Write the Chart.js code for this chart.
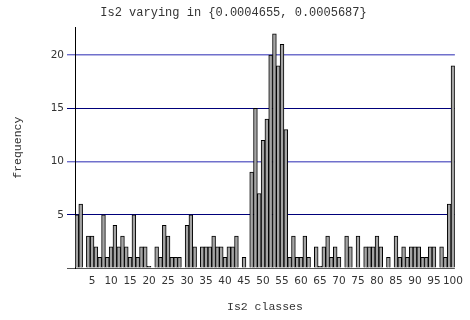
<!DOCTYPE html>
<html>
<head>
<meta charset="utf-8">
<script src="https://cdn.jsdelivr.net/npm/chart.js@4/dist/chart.umd.min.js"></script>
<style>
  body { margin: 0; background: #fff; }
  canvas { display: block; }
</style>
</head>
<body>
<canvas id="chart" width="470" height="320"></canvas>
<script>
// classes 1..100
const classes = Array.from({ length: 100 }, (_, i) => String(i + 1));
const frequency = [
  5, 6, 0, 3, 3, 2, 1, 5, 1, 2,
  4, 2, 3, 2, 1, 5, 1, 2, 2, 0.15,
  0, 2, 1, 4, 3, 1, 1, 1, 0, 4,
  5, 2, 0, 2, 2, 2, 3, 2, 2, 1,
  2, 2, 3, 0, 1, 0, 9, 15, 7, 12,
  14, 20, 22, 19, 21, 13, 1, 3, 1, 1,
  3, 1, 0, 2, 0.15, 2, 3, 1, 2, 1,
  0, 3, 2, 0, 3, 0, 2, 2, 2, 3,
  2, 0, 1, 0, 3, 1, 2, 1, 2, 2,
  2, 1, 1, 2, 2, 0, 2, 1, 6, 19
];
const yTicks = [0, 5, 10, 15, 20];
const gridColors = ["#555555", "#00007a", "#7070cc", "#00007a", "#7070cc"];
const gridWidths = [1, 1, 1.4, 1, 1.4];
const titleText = "Is2 varying in {0.0004655, 0.0005687}";

const ctx = document.getElementById("chart").getContext("2d");
new Chart(ctx, {
  type: "bar",
  data: {
    labels: classes,
    datasets: [{
      data: frequency,
      backgroundColor: "#a4a4a4",
      borderColor: "#000",
      borderWidth: 1,
      barPercentage: 1,
      categoryPercentage: 1
    }]
  },
  options: {
    responsive: false,
    animation: false,
    layout: { padding: { left: 0, right: 3, top: 0, bottom: 0 } },
    plugins: {
      legend: { display: false },
      tooltip: { enabled: false },
      title: {
        display: true,
        text: titleText,
        color: "#333",
        font: { family: "'Liberation Mono', monospace", size: 12, weight: "normal" },
        padding: { top: 6, bottom: 7 }
      }
    },
    scales: {
      x: {
        grid: { display: false, drawTicks: false },
        border: { display: false },
        ticks: {
          autoSkip: false,
          maxRotation: 0,
          padding: 7,
          color: "#333",
          font: { family: "'DejaVu Sans', sans-serif", size: 10.5 },
          callback: (v, i) => ((i + 1) % 5 === 0 ? classes[i] : "")
        },
        title: {
          display: true,
          text: "Is2 classes",
          color: "#333",
          font: { family: "'Liberation Mono', monospace", size: 11.5 },
          padding: { top: 0, bottom: 6 }
        },
        afterFit: (s) => { s.height = 52; }
      },
      y: {
        min: 0,
        max: 22.6,
        afterBuildTicks: (s) => { s.ticks = yTicks.map((v) => ({ value: v })); },
        grid: {
          color: (c) => gridColors[c.index] || "#555",
          lineWidth: (c) => gridWidths[c.index] || 1,
          tickLength: 8
        },
        border: { display: true, color: "#000" },
        ticks: {
          padding: 3,
          color: "#333",
          font: { family: "'DejaVu Sans', sans-serif", size: 10.5 },
          callback: (v) => (v === 0 ? "" : v)
        },
        title: {
          display: true,
          text: "frequency",
          color: "#333",
          font: { family: "'Liberation Mono', monospace", size: 11.5 },
          padding: { top: 11, bottom: 0 }
        },
        afterFit: (s) => { s.width = 75; }
      }
    }
  }
});
</script>
</body>
</html>
